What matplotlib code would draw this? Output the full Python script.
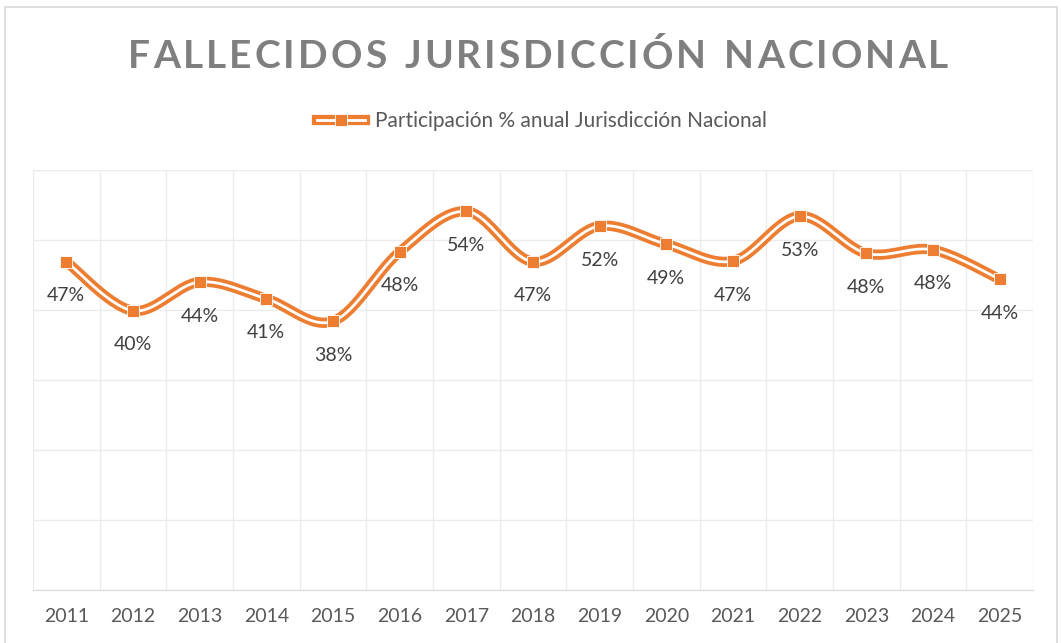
import matplotlib
matplotlib.use('Agg')
import matplotlib.pyplot as plt
import matplotlib.patheffects as pe
from matplotlib.lines import Line2D
from matplotlib.legend_handler import HandlerTuple
from matplotlib.patches import Rectangle
import numpy as np

plt.rcParams['font.family'] = ['Lato', 'DejaVu Sans']

years = ['2011', '2012', '2013', '2014', '2015', '2016', '2017', '2018',
         '2019', '2020', '2021', '2022', '2023', '2024', '2025']
share = [0.469, 0.399, 0.440, 0.416, 0.384, 0.483, 0.541, 0.469,
         0.520, 0.494, 0.470, 0.534, 0.481, 0.486, 0.444]
labels = ['47%', '40%', '44%', '41%', '38%', '48%', '54%', '47%',
          '52%', '49%', '47%', '53%', '48%', '48%', '44%']

ORANGE = '#ed7d31'
title_txt = 'FALLECIDOS JURISDICCIÓN NACIONAL'
series_name = 'Participación % anual Jurisdicción Nacional'


def smooth(xs, ys, n=30):
    # bezier smoothing like the spreadsheet "smoothed line" option
    p = np.column_stack([xs, ys]).astype(float)
    p = np.vstack([p[0], p, p[-1]])
    out = []
    for i in range(1, len(p) - 2):
        p0, p1, p2, p3 = p[i], p[i] + (p[i + 1] - p[i - 1]) / 6, p[i + 1] - (p[i + 2] - p[i]) / 6, p[i + 1]
        t = np.linspace(0, 1, n)[:, None]
        out.append((1 - t) ** 3 * p0 + 3 * (1 - t) ** 2 * t * p1 + 3 * (1 - t) * t ** 2 * p2 + t ** 3 * p3)
    out = np.vstack(out)
    return out[:, 0], out[:, 1]


fig = plt.figure(figsize=(10.61, 6.43), dpi=100)
ax = fig.add_axes([0.0311, 0.0824, 0.9425, 0.6532])

x = np.arange(len(years))
sx, sy = smooth(x, share)
double = [pe.Stroke(linewidth=7.4, foreground=ORANGE), pe.Normal()]
ax.plot(sx, sy, color='white', lw=2.0, solid_capstyle='butt', zorder=3, path_effects=double)
ax.plot(x, share, ls='none', marker='s', ms=8, mfc=ORANGE, mec='white', mew=0.6, zorder=4)

for xi, yi, lab in zip(x, share, labels):
    ax.annotate(lab, (xi, yi), xytext=(0, -24.5), textcoords='offset points',
                ha='center', va='center', fontsize=14, color='#404040', zorder=5)

ax.set_xlim(-0.5, len(years) - 0.5)
ax.set_ylim(0, 0.6)
ax.set_yticks(np.arange(0, 0.61, 0.1))
ax.set_yticklabels([])
ax.set_xticks(x)
ax.set_xticklabels(years, fontsize=14, color='#595959')
ax.set_xticks(np.arange(-0.5, len(years), 1), minor=True)
ax.tick_params(axis='both', which='both', length=0)
ax.tick_params(axis='x', pad=13)
ax.grid(axis='y', which='major', color='#ebebeb', lw=1)
ax.grid(axis='x', which='minor', color='#ebebeb', lw=1)
for s in ['top', 'left', 'right']:
    ax.spines[s].set_visible(False)
ax.spines['bottom'].set_color('#d9d9d9')

# legend with double line and square marker centred on it
h_line = Line2D([], [], color='white', lw=2.0,
                path_effects=[pe.Stroke(linewidth=7.4, foreground=ORANGE), pe.Normal()])
h_mark = Line2D([], [], ls='none', marker='s', ms=8, mfc=ORANGE, mec='white', mew=0.6)
fig.legend([(h_line, h_mark)], [series_name], handler_map={tuple: HandlerTuple(ndivide=1, pad=0)},
           loc='center', bbox_to_anchor=(542 / 1061, 1 - 121 / 643), frameon=False,
           fontsize=15, labelcolor='#595959', handlelength=2.3, handletextpad=0.45)

# spaced-out title, placed letter by letter
fig.canvas.draw()
r = fig.canvas.get_renderer()
fs = 28
widths = []
for ch in title_txt:
    t = fig.text(0, 0, ch if ch != ' ' else 'n', fontsize=fs, fontweight='bold')
    w = t.get_window_extent(r).width
    t.remove()
    widths.append(w * (0.55 if ch == ' ' else 1))
target = 820
spacing = max(0, (target - sum(widths)) / (len(title_txt) - 1))
xpos = 538 - (sum(widths) + spacing * (len(title_txt) - 1)) / 2
for ch, w in zip(title_txt, widths):
    if ch != ' ':
        fig.text(xpos / 1061, 1 - 57 / 643, ch, fontsize=fs, fontweight='bold',
                 color='#7f7f7f', ha='left', va='center')
    xpos += w + spacing

fig.patches.append(Rectangle((5 / 1061, -0.01), 1052 / 1061, 1 - 7 / 643 + 0.01,
                             transform=fig.transFigure, fill=False, ec='#d9d9d9', lw=1.2))

fig.savefig('out.png', dpi=100)
